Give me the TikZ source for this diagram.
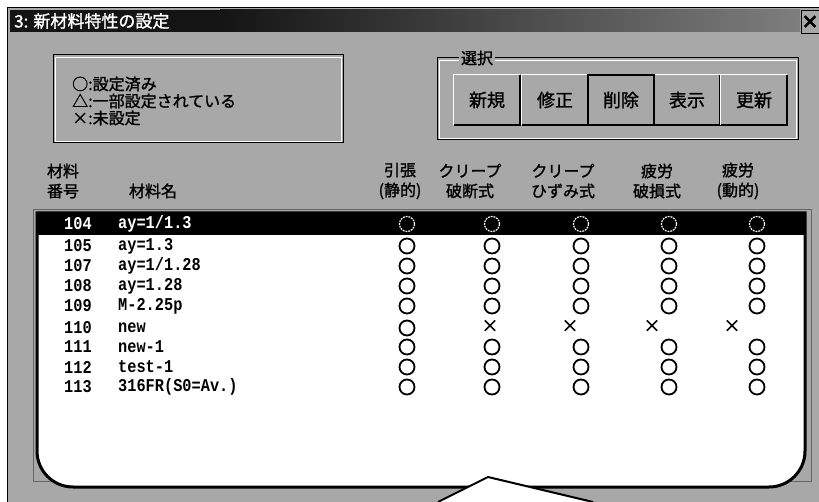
\documentclass[tikz,border=0pt]{standalone}
\usepackage{fontspec}
\newfontfamily\jpfont[FakeBold=1.3]{Noto Sans CJK JP}
\newfontfamily\lstfont[FakeStretch=0.85]{Liberation Mono}
\definecolor{winbg}{RGB}{168,168,168}
\definecolor{bardark}{RGB}{20,20,20}
\tikzset{
  jp/.style={font=\jpfont\fontsize{16}{20}\selectfont, inner sep=0pt},
  hdr/.style={jp, align=center},
  btn/.style={jp, font=\jpfont\fontsize{18}{20}\selectfont, minimum width=66pt, minimum height=50pt, fill=winbg},
  rowtxt/.style={font=\lstfont\bfseries\fontsize{18}{18}\selectfont, anchor=west, inner sep=0pt},
  okmark/.style={circle, draw, line width=1.8pt, minimum size=15pt, inner sep=0pt},
  ngmark/.style={jp, font=\jpfont\fontsize{17}{17}\selectfont},
}
\begin{document}
\begin{tikzpicture}[x=1pt,y=-1pt]
  \useasboundingbox (0,0) rectangle (819,502);
  % window
  \fill[white] (0,0) rectangle (819,502);
  \fill[winbg] (7,8) rectangle (819,502);
  \draw[line width=1pt] (7,502) -- (7,8) -- (819,8);
  % title bar
  \fill[bardark] (10,10) rectangle (220,32);
  \shade[left color=bardark, right color=winbg!75!black] (220,10) rectangle (800,32);
  \node[jp, font=\jpfont\fontsize{17}{17}\selectfont, text=white, anchor=west] (title) at (14,21) {3: 新材料特性の設定};
  \node[draw, fill=winbg, minimum width=17pt, minimum height=23pt, inner sep=0pt,
        font=\jpfont\bfseries\fontsize{18}{18}\selectfont] (close) at (810,22) {×};

  % legend
  \draw[line width=1pt] (53,55) rectangle (343,143);
  \draw[white, line width=0.8pt] (55,57) rectangle (341,141);
  \node[jp, anchor=west] (lgA) at (72,84) {○:設定済み};
  \node[jp, anchor=west] (lgB) at (72,101) {△:一部設定されている};
  \node[jp, anchor=west] (lgC) at (72,118) {×:未設定};

  % selection group
  \draw[line width=1pt] (437,58) rectangle (798,140);
  \draw[white, line width=0.8pt] (439,60) rectangle (796,138);
  \node[jp, fill=winbg, inner xsep=2pt] (grp) at (477,58) {選択};
  \foreach \lab/\cx/\nm in {新規/487/bNew, 修正/555/bMod, 削除/621/bDel, 表示/687/bShow, 更新/754/bUpd} {
    \node[btn] (\nm) at (\cx,100) {\lab};
    \draw[white, line width=1.2pt] (\nm.south west) |- (\nm.north east);
    \draw[black, line width=2.5pt] (\nm.south west) -| (\nm.north east);
  }
  \draw[black, line width=2.5pt] (bDel.south west) rectangle (bDel.north east);

  % column headers
  \node[hdr] (hNo) at (63,181) {材料\\番号};
  \node[jp] (hName) at (153,191) {材料名};
  \node[hdr] (hA) at (400,181) {引張\\(静的)};
  \node[hdr] (hB) at (470,181) {クリープ\\破断式};
  \node[hdr] (hC) at (563,181) {クリープ\\ひずみ式};
  \node[hdr] (hD) at (657,181) {疲労\\破損式};
  \node[hdr] (hE) at (738,181) {疲労\\(動的)};

  % list box
  \draw[black!60, line width=0.6pt] (33,209) rectangle (811,481);
  \draw[line width=3pt, fill=white] (37,213) [rounded corners=36pt] -- (37,487) -- (805,487) [sharp corners] -- (805,213) -- cycle;
  \fill[black] (37,213) rectangle (805,235);

  % selected row
  \node[rowtxt, text=white] (n104) at (64,224) {104};
  \node[rowtxt, text=white] (m104) at (118,224) {ay=1/1.3};
  \foreach \cx [count=\i] in {407,492,581,669,757}
    \node[okmark, draw=white, densely dotted, line width=1.2pt] (c104-\i) at (\cx,224) {};

  % rows
  \foreach \y/\num/\name in {246/105/{ay=1.3}, 266/107/{ay=1/1.28}, 286/108/{ay=1.28},
      306/109/{M-2.25p}, 328/110/{new}, 347/111/{new-1}, 367/112/{test-1}, 387/113/{316FR(S0=Av.)}} {
    \node[rowtxt] (n\num) at (64,\y) {\num};
    \node[rowtxt] (m\num) at (118,\y) {\name};
  }
  \foreach \y/\num in {246/105, 266/107, 286/108, 306/109, 347/111, 367/112, 387/113}
    \foreach \cx [count=\i] in {407,492,581,669,757}
      \node[okmark] (c\num-\i) at (\cx,\y) {};
  \node[okmark] (c110-1) at (407,328) {};
  \foreach \cx [count=\i from 2] in {490,570,652,732}
    \node[ngmark] (x110-\i) at (\cx,326) {×};

  % callout
  \coordinate (tipL) at (438,502);
  \coordinate (tipTop) at (488,477);
  \coordinate (tipR) at (593,502);
  \fill[white] (tipL) -- (tipTop) -- (tipR) -- cycle;
  \draw[line width=2pt] (tipL) -- (tipTop) -- (tipR);
\end{tikzpicture}
\end{document}
